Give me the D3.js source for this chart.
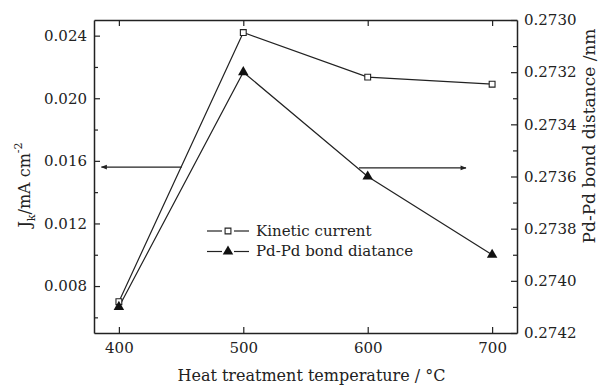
<!DOCTYPE html>
<html>
<head>
<meta charset="utf-8">
<script src="https://cdn.jsdelivr.net/npm/d3@7"></script>
<style>
  body { margin: 0; background: #fff; }
</style>
</head>
<body>
<script>
// data
var temps = [400, 500, 600, 700];
var kinetic = [0.0070, 0.0242, 0.02135, 0.0209];
var bondDist = [0.27410, 0.27320, 0.27360, 0.27390];
var xTicks = [400, 500, 600, 700];
var leftTicks = [0.008, 0.012, 0.016, 0.020, 0.024];
var leftMinor = [0.006, 0.010, 0.014, 0.018, 0.022];
var rightTicks = [0.2730, 0.2732, 0.2734, 0.2736, 0.2738, 0.2740, 0.2742];
var rightMinor = [0.2731, 0.2733, 0.2735, 0.2737, 0.2739, 0.2741];
var seriesNames = ['Kinetic current', 'Pd-Pd bond diatance'];

var W = 600, H = 386;
var margin = {top: 20, right: 83, bottom: 53, left: 94};
var width = W - margin.left - margin.right,
    height = H - margin.top - margin.bottom;

var serif = 'DejaVu Serif';
var ink = '#222';

var x = d3.scaleLinear().domain([380, 720]).range([0, width]);
var yL = d3.scaleLinear().domain([0.005, 0.025]).range([height, 0]);
var yR = d3.scaleLinear().domain([0.2730, 0.2742]).range([0, height]);

var svg = d3.select('body').append('svg')
    .attr('width', W)
    .attr('height', H)
    .attr('font-family', serif)
  .append('g')
    .attr('transform', 'translate(' + margin.left + ',' + margin.top + ')');

// axes (ticks pointing inward)
function styleAxis(g) {
  g.attr('font-family', serif).attr('font-size', 15);
  g.selectAll('path').attr('stroke', ink).attr('stroke-width', 1.5);
  g.selectAll('line').attr('stroke', ink).attr('stroke-width', 1.2);
  g.selectAll('text').attr('font-family', serif).attr('font-size', 15).attr('fill', ink);
}

svg.append('g')
    .attr('transform', 'translate(0,' + height + ')')
    .call(d3.axisBottom(x).tickValues(xTicks).tickSizeInner(-6).tickSizeOuter(0).tickPadding(9)
      .tickFormat(d3.format('d')))
    .call(styleAxis);

svg.append('g')
    .call(d3.axisTop(x).tickValues(xTicks).tickSizeInner(-6).tickSizeOuter(0).tickFormat(''))
    .call(styleAxis);

svg.append('g')
    .call(d3.axisLeft(yL).tickValues(leftTicks).tickSizeInner(-6).tickSizeOuter(0).tickPadding(7)
      .tickFormat(d3.format('.3f')))
    .call(styleAxis);

svg.append('g')
    .call(d3.axisLeft(yL).tickValues(leftMinor).tickSizeInner(-4).tickSizeOuter(0).tickFormat(''))
    .call(styleAxis)
    .select('path').remove();

svg.append('g')
    .attr('transform', 'translate(' + width + ',0)')
    .call(d3.axisRight(yR).tickValues(rightTicks).tickSizeInner(-6).tickSizeOuter(0).tickPadding(7)
      .tickFormat(d3.format('.4f')))
    .call(styleAxis);

svg.append('g')
    .attr('transform', 'translate(' + width + ',0)')
    .call(d3.axisRight(yR).tickValues(rightMinor).tickSizeInner(-4).tickSizeOuter(0).tickFormat(''))
    .call(styleAxis)
    .select('path').remove();

// lines
var lineL = d3.line()
    .x(function(d, i) { return x(temps[i]); })
    .y(function(d) { return yL(d); });
var lineR = d3.line()
    .x(function(d, i) { return x(temps[i]); })
    .y(function(d) { return yR(d); });

svg.append('path')
    .datum(kinetic)
    .attr('d', lineL)
    .attr('fill', 'none')
    .attr('stroke', ink)
    .attr('stroke-width', 1.2);

svg.append('path')
    .datum(bondDist)
    .attr('d', lineR)
    .attr('fill', 'none')
    .attr('stroke', ink)
    .attr('stroke-width', 1.2);

var sq = d3.symbol().type(d3.symbolSquare).size(34);
var tri = d3.symbol().type(d3.symbolTriangle).size(48);

svg.selectAll('.sq')
    .data(kinetic)
    .enter().append('path')
    .attr('class', 'sq')
    .attr('d', sq)
    .attr('transform', function(d, i) { return 'translate(' + x(temps[i]) + ',' + yL(d) + ')'; })
    .attr('fill', '#fff')
    .attr('stroke', ink)
    .attr('stroke-width', 1.1);

svg.selectAll('.tri')
    .data(bondDist)
    .enter().append('path')
    .attr('class', 'tri')
    .attr('d', tri)
    .attr('transform', function(d, i) { return 'translate(' + x(temps[i]) + ',' + yR(d) + ')'; })
    .attr('fill', '#111');

// arrows pointing to the axes
var defs = d3.select('svg').append('defs');
defs.append('marker')
    .attr('id', 'head')
    .attr('viewBox', '0 0 10 10')
    .attr('refX', 9).attr('refY', 5)
    .attr('markerWidth', 7).attr('markerHeight', 5)
    .attr('orient', 'auto')
  .append('path')
    .attr('d', 'M0,1L10,5L0,9Z')
    .attr('fill', ink);

svg.append('line')
    .attr('x1', x(450.5)).attr('x2', x(386))
    .attr('y1', yL(0.0156)).attr('y2', yL(0.0156))
    .attr('stroke', ink).attr('stroke-width', 1.2)
    .attr('marker-end', 'url(#head)');

svg.append('line')
    .attr('x1', x(593)).attr('x2', x(679))
    .attr('y1', yL(0.01555)).attr('y2', yL(0.01555))
    .attr('stroke', ink).attr('stroke-width', 1.2)
    .attr('marker-end', 'url(#head)');

// legend
var legend = svg.append('g')
    .attr('transform', 'translate(' + (207 - margin.left) + ',' + (231 - margin.top) + ')');

seriesNames.forEach(function(name, i) {
  var row = legend.append('g').attr('transform', 'translate(0,' + (i * 20.5) + ')');
  row.append('line').attr('x1', 0).attr('x2', 15).attr('stroke', ink).attr('stroke-width', 1.2);
  row.append('line').attr('x1', 27).attr('x2', 42).attr('stroke', ink).attr('stroke-width', 1.2);
  row.append('path')
      .attr('d', i === 0 ? sq : tri)
      .attr('transform', 'translate(21,0)')
      .attr('fill', i === 0 ? '#fff' : '#111')
      .attr('stroke', i === 0 ? ink : 'none')
      .attr('stroke-width', 1.1);
  row.append('text')
      .attr('x', 49)
      .attr('dy', '0.33em')
      .attr('font-family', serif)
      .attr('font-size', 15)
      .attr('fill', ink)
      .text(name);
});

// axis titles
svg.append('text')
    .attr('x', width / 2 + 6)
    .attr('y', height + 48)
    .attr('text-anchor', 'middle')
    .attr('font-family', serif)
    .attr('font-size', 16)
    .attr('fill', ink)
    .text('Heat treatment temperature / °C');

var yt = svg.append('text')
    .attr('transform', 'translate(' + (-64) + ',' + (165) + ') rotate(-90)')
    .attr('text-anchor', 'middle')
    .attr('font-family', serif)
    .attr('font-size', 16)
    .attr('fill', ink);
yt.append('tspan').text('J');
yt.append('tspan').attr('dy', 5).attr('font-size', 11).text('k');
yt.append('tspan').attr('dy', -5).text('/mA cm');
yt.append('tspan').attr('dy', -8).attr('font-size', 11).text('-2');

svg.append('text')
    .attr('transform', 'translate(' + (width + 78) + ',' + (116) + ') rotate(-90)')
    .attr('text-anchor', 'middle')
    .attr('font-family', serif)
    .attr('font-size', 17)
    .attr('fill', ink)
    .text('Pd-Pd bond distance /nm');
</script>
</body>
</html>
